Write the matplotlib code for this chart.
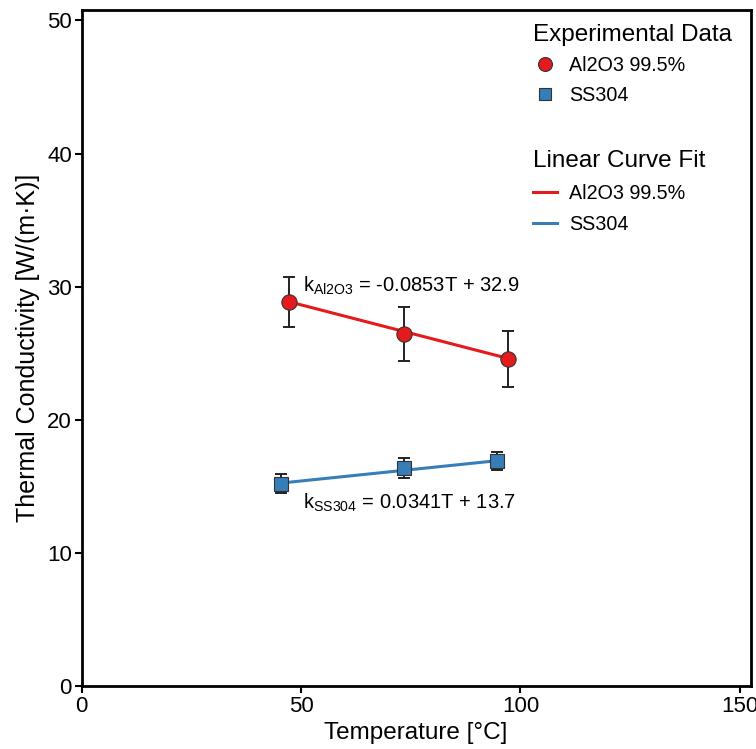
import matplotlib
matplotlib.use("Agg")
import matplotlib.pyplot as plt
from matplotlib.lines import Line2D
import numpy as np

plt.rcParams['font.family'] = ['Liberation Sans', 'DejaVu Sans']

# Data
al_T = [47.3, 73.5, 97.2]
al_k = [28.85, 26.45, 24.6]
al_err = [1.9, 2.0, 2.1]
ss_T = [45.4, 73.5, 94.6]
ss_k = [15.2, 16.35, 16.9]
ss_err = [0.7, 0.75, 0.7]
al_fit = (-0.0853, 32.9)
ss_fit = (0.0341, 13.7)
red = '#E41A1C'
blue = '#377EB8'

fig = plt.figure(figsize=(7.56, 7.49), dpi=100)
ax = fig.add_axes([0.108, 0.084, 0.885, 0.903])

# Fit lines
t = np.array([min(al_T), max(al_T)])
ax.plot(t, al_fit[0] * t + al_fit[1], color=red, lw=2.2, zorder=2)
t2 = np.array([min(ss_T), max(ss_T)])
ax.plot(t2, ss_fit[0] * t2 + ss_fit[1], color=blue, lw=2.2, zorder=2)

# Error bars
ax.errorbar(al_T, al_k, yerr=al_err, fmt='none', ecolor='#222222', elinewidth=1.4,
            capsize=4.5, capthick=1.4, zorder=3)
ax.errorbar(ss_T, ss_k, yerr=ss_err, fmt='none', ecolor='#222222', elinewidth=1.4,
            capsize=4.5, capthick=1.4, zorder=3)

# Points
ax.plot(al_T, al_k, 'o', color=red, mec='#333333', mew=0.8, ms=11, ls='none', zorder=4)
ax.plot(ss_T, ss_k, 's', color=blue, mec='#333333', mew=0.8, ms=9.5, ls='none', zorder=4)

# Annotations
ax.text(50.5, 30.05, r'k$_{\mathregular{Al2O3}}$ = -0.0853T + 32.9', fontsize=14.5,
        va='center', ha='left')
ax.text(50.5, 13.8, r'k$_{\mathregular{SS304}}$ = 0.0341T + 13.7', fontsize=14.5,
        va='center', ha='left')

ax.set_xlim(0, 152.5)
ax.set_ylim(0, 50.8)
ax.set_xticks([0, 50, 100, 150])
ax.set_yticks([0, 10, 20, 30, 40, 50])
ax.tick_params(axis='both', labelsize=16, length=5, width=1.5, direction='out', pad=2)
for s in ax.spines.values():
    s.set_linewidth(2)
ax.set_xlabel('Temperature [°C]', fontsize=17.5, labelpad=4)
ax.set_ylabel('Thermal Conductivity [W/(m·K)]', fontsize=18, labelpad=5)

# Legends
h1 = [Line2D([], [], marker='o', ls='none', color=red, mec='#333333', mew=0.8, ms=10),
      Line2D([], [], marker='s', ls='none', color=blue, mec='#333333', mew=0.8, ms=8.5)]
leg1 = ax.legend(h1, ['Al2O3 99.5%', 'SS304'], title='Experimental Data',
                 loc='upper left', bbox_to_anchor=(0.687, 0.987), bbox_transform=fig.transFigure,
                 frameon=False, fontsize=14.2, title_fontsize=17.5, alignment='left',
                 handlelength=1.2, handletextpad=0.6, labelspacing=0.55, borderpad=0.2)
ax.add_artist(leg1)
h2 = [Line2D([], [], color=red, lw=2.2), Line2D([], [], color=blue, lw=2.2)]
leg2 = ax.legend(h2, ['Al2O3 99.5%', 'SS304'], title='Linear Curve Fit',
                 loc='upper left', bbox_to_anchor=(0.687, 0.818), bbox_transform=fig.transFigure,
                 frameon=False, fontsize=14.2, title_fontsize=17.5, alignment='left',
                 handlelength=1.2, handletextpad=0.6, labelspacing=0.6, borderpad=0.2)

fig.savefig('out.png', dpi=100)
